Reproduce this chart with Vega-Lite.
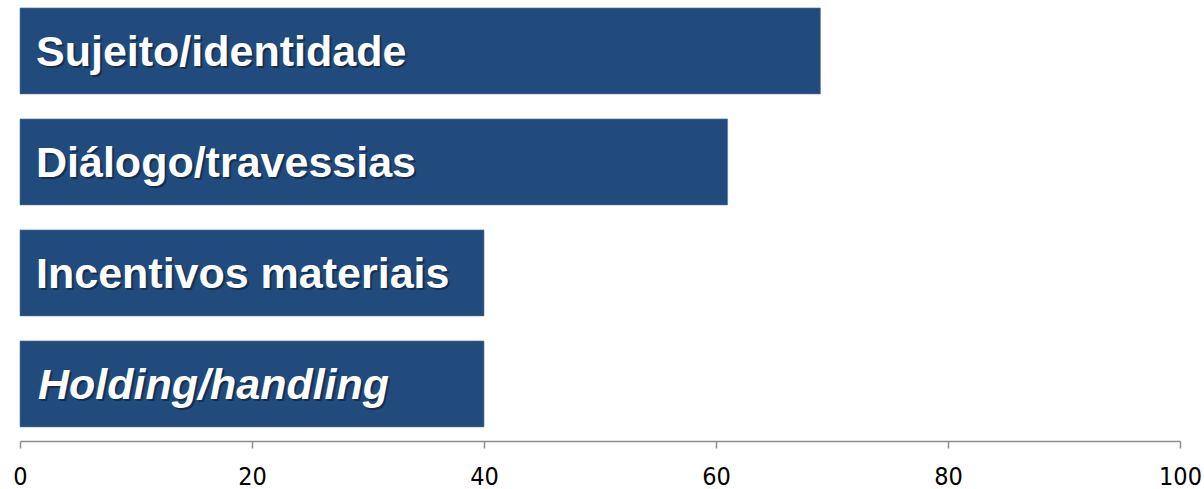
{
  "$schema": "https://vega.github.io/schema/vega-lite/v6.json",
  "width": 1160,
  "height": 441,
  "autosize": {"type": "none"},
  "padding": {"left": 20, "top": 0, "right": 24, "bottom": 48},
  "background": "white",
  "config": {"view": {"stroke": null}},
  "data": {
    "values": [
      {"category": "Sujeito/identidade", "value": 69},
      {"category": "Diálogo/travessias", "value": 61},
      {"category": "Incentivos materiais", "value": 40},
      {"category": "Holding/handling", "value": 40}
    ]
  },
  "encoding": {
    "y": {
      "field": "category",
      "type": "nominal",
      "sort": null,
      "axis": null,
      "scale": {"paddingInner": 0.225, "paddingOuter": 0.099, "align": 0.36}
    }
  },
  "layer": [
    {
      "mark": {"type": "bar", "color": "#214A7D", "stroke": "#5a78a0", "strokeWidth": 1, "strokeOpacity": 0.6},
      "encoding": {
        "x": {
          "field": "value",
          "type": "quantitative",
          "scale": {"domain": [0, 100], "nice": false},
          "axis": {
            "values": [0, 20, 40, 60, 80, 100],
            "title": null,
            "grid": false,
            "domainColor": "#8c8c8c",
            "domainWidth": 1.5,
            "tickColor": "#8c8c8c",
            "tickWidth": 1.5,
            "tickSize": 7,
            "labelFont": "DejaVu Sans Condensed, DejaVu Sans",
            "labelFontSize": 25,
            "labelColor": "#000000",
            "labelPadding": 16,
            "labelFlush": false,
            "labelOverlap": false
          }
        }
      }
    },
    {
      "transform": [{"filter": "datum.category != 'Holding/handling'"}],
      "mark": {"type": "text", "align": "left", "baseline": "alphabetic", "dx": 18, "dy": 17, "font": "Liberation Sans", "fontWeight": "bold", "fontSize": 43, "color": "#0d1a2b", "opacity": 0.55},
      "encoding": {"x": {"datum": 0, "type": "quantitative"}, "text": {"field": "category"}}
    },
    {
      "transform": [{"filter": "datum.category == 'Holding/handling'"}],
      "mark": {"type": "text", "align": "left", "baseline": "alphabetic", "dx": 20, "dy": 17, "font": "Liberation Sans", "fontWeight": "bold", "fontStyle": "italic", "fontSize": 43, "color": "#0d1a2b", "opacity": 0.55},
      "encoding": {"x": {"datum": 0, "type": "quantitative"}, "text": {"field": "category"}}
    },
    {
      "transform": [{"filter": "datum.category != 'Holding/handling'"}],
      "mark": {"type": "text", "align": "left", "baseline": "alphabetic", "dx": 16, "dy": 15, "font": "Liberation Sans", "fontWeight": "bold", "fontSize": 43, "color": "#ffffff"},
      "encoding": {"x": {"datum": 0, "type": "quantitative"}, "text": {"field": "category"}}
    },
    {
      "transform": [{"filter": "datum.category == 'Holding/handling'"}],
      "mark": {"type": "text", "align": "left", "baseline": "alphabetic", "dx": 18, "dy": 15, "font": "Liberation Sans", "fontWeight": "bold", "fontStyle": "italic", "fontSize": 43, "color": "#ffffff"},
      "encoding": {"x": {"datum": 0, "type": "quantitative"}, "text": {"field": "category"}}
    }
  ]
}
